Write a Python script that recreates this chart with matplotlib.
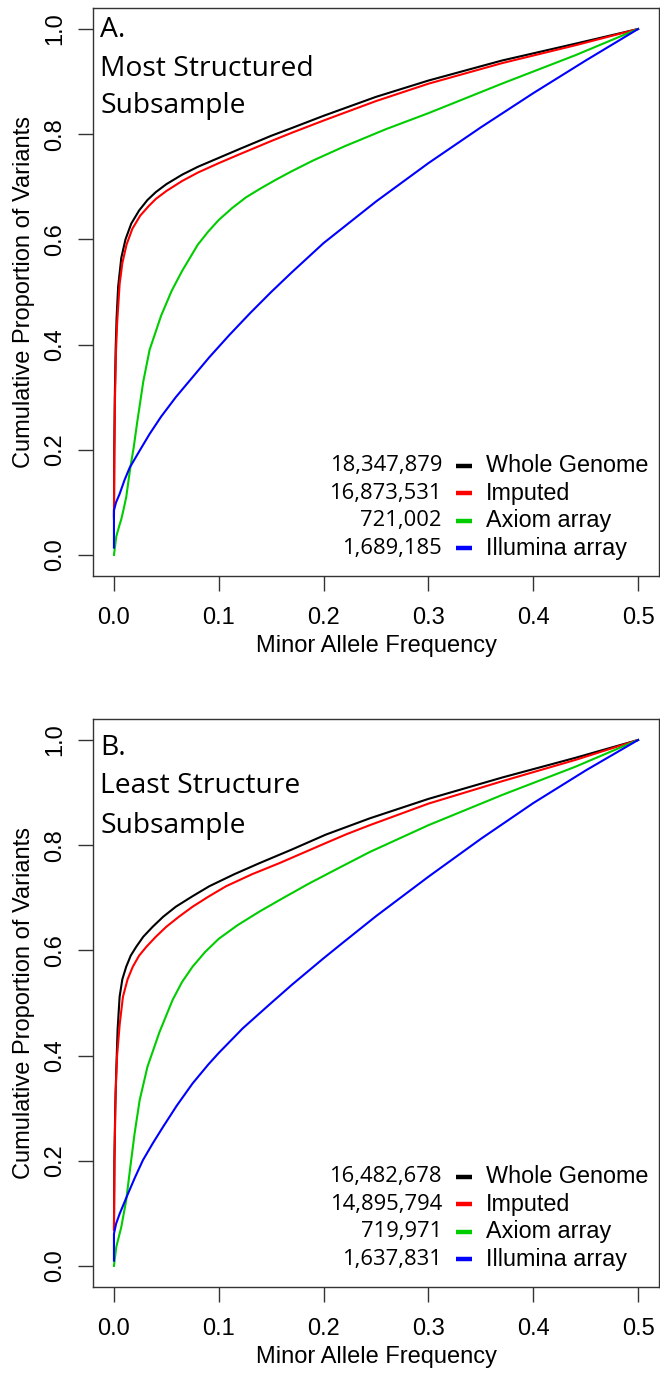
import matplotlib.pyplot as plt

# cumulative MAF curves, panel A (most structured subsample)
a_whole_x = [0.0, 0.0003, 0.0008, 0.0016, 0.0025, 0.004, 0.007, 0.011, 0.0165, 0.024, 0.032, 0.04, 0.05,
             0.065, 0.08, 0.1, 0.12, 0.15, 0.17, 0.2, 0.25, 0.3, 0.37, 0.44, 0.5]
a_whole_y = [0.07, 0.20, 0.30, 0.39, 0.45, 0.51, 0.565, 0.60, 0.63, 0.655, 0.675, 0.69, 0.705,
             0.723, 0.738, 0.755, 0.772, 0.797, 0.812, 0.835, 0.871, 0.902, 0.94, 0.972, 1.0]
a_imput_x = [0.0, 0.0004, 0.001, 0.002, 0.003, 0.0054, 0.008, 0.012, 0.0175, 0.025, 0.033, 0.04, 0.05,
             0.065, 0.08, 0.1, 0.12, 0.15, 0.17, 0.2, 0.25, 0.3, 0.37, 0.44, 0.5]
a_imput_y = [0.075, 0.20, 0.30, 0.39, 0.44, 0.515, 0.555, 0.59, 0.62, 0.645, 0.663, 0.677, 0.692,
             0.711, 0.727, 0.745, 0.762, 0.787, 0.803, 0.826, 0.863, 0.896, 0.935, 0.969, 1.0]
a_axiom_x = [0.0, 0.0022, 0.005, 0.007, 0.009, 0.0117, 0.0156, 0.0188, 0.022, 0.025, 0.028, 0.034, 0.045,
             0.055, 0.065, 0.08, 0.09, 0.1, 0.113, 0.126, 0.14, 0.155, 0.17, 0.19, 0.22, 0.26, 0.3,
             0.37, 0.44, 0.5]
a_axiom_y = [0.0, 0.035, 0.055, 0.068, 0.085, 0.11, 0.166, 0.204, 0.25, 0.29, 0.33, 0.39, 0.455,
             0.502, 0.54, 0.59, 0.615, 0.637, 0.66, 0.68, 0.697, 0.714, 0.73, 0.75, 0.777, 0.81, 0.84,
             0.896, 0.95, 1.0]
a_illum_x = [0.0, 0.0, 0.002, 0.0054, 0.01, 0.015, 0.025, 0.034, 0.045, 0.059, 0.075, 0.091,
             0.11, 0.13, 0.15, 0.17, 0.2, 0.25, 0.3, 0.35, 0.4, 0.45, 0.5]
a_illum_y = [0.014, 0.085, 0.10, 0.116, 0.142, 0.166, 0.20, 0.23, 0.263, 0.30, 0.338, 0.376,
             0.418, 0.46, 0.50, 0.538, 0.593, 0.672, 0.745, 0.813, 0.878, 0.94, 1.0]

# panel B (least structure subsample)
b_whole_x = [0.0, 0.0004, 0.0012, 0.0022, 0.0035, 0.0054, 0.008, 0.0117, 0.016, 0.0213, 0.028, 0.037,
             0.047, 0.059, 0.075, 0.091, 0.115, 0.139, 0.17, 0.202, 0.244, 0.3, 0.371, 0.44, 0.5]
b_whole_y = [0.07, 0.2, 0.3, 0.372, 0.45, 0.512, 0.545, 0.569, 0.59, 0.607, 0.626, 0.645,
             0.664, 0.683, 0.703, 0.722, 0.745, 0.766, 0.792, 0.82, 0.851, 0.888, 0.929, 0.966, 1.0]
b_imput_x = [0.0, 0.0005, 0.0016, 0.003, 0.0055, 0.0086, 0.013, 0.018, 0.024, 0.031, 0.04, 0.05,
             0.062, 0.075, 0.09, 0.107, 0.132, 0.158, 0.18, 0.202, 0.222, 0.244, 0.3, 0.371, 0.44, 0.5]
b_imput_y = [0.068, 0.2, 0.33, 0.40, 0.46, 0.512, 0.545, 0.569, 0.59, 0.607, 0.626, 0.645,
             0.664, 0.683, 0.702, 0.722, 0.745, 0.766, 0.785, 0.804, 0.821, 0.838, 0.879, 0.922, 0.962, 1.0]
b_axiom_x = [0.0, 0.0022, 0.007, 0.0117, 0.0156, 0.0197, 0.0245, 0.032, 0.0435, 0.056, 0.065, 0.075,
             0.087, 0.1, 0.118, 0.139, 0.16, 0.186, 0.21, 0.244, 0.3, 0.371, 0.44, 0.5]
b_axiom_y = [0.0, 0.036, 0.074, 0.125, 0.188, 0.252, 0.315, 0.379, 0.445, 0.506, 0.54, 0.569,
             0.597, 0.622, 0.648, 0.674, 0.698, 0.727, 0.752, 0.787, 0.838, 0.896, 0.949, 1.0]
b_illum_x = [0.0, 0.0, 0.002, 0.0054, 0.0133, 0.02, 0.0276, 0.037, 0.0467, 0.06, 0.075, 0.09, 0.1,
             0.123, 0.15, 0.17, 0.2, 0.218, 0.25, 0.3, 0.35, 0.4, 0.45, 0.5]
b_illum_y = [0.010, 0.061, 0.08, 0.099, 0.137, 0.168, 0.201, 0.233, 0.264, 0.305, 0.347, 0.383, 0.405,
             0.452, 0.50, 0.535, 0.585, 0.614, 0.665, 0.74, 0.812, 0.88, 0.942, 1.0]

series_names = ['Whole Genome', 'Imputed', 'Axiom array', 'Illumina array']
series_colors = ['#000000', '#ff0000', '#00cd00', '#0000ff']
counts_a = [18347879, 16873531, 721002, 1689185]
counts_b = [16482678, 14895794, 719971, 1637831]
titles_a = ['A.', 'Most Structured', 'Subsample']
titles_b = ['B.', 'Least Structure', 'Subsample']

xticks = [0.0, 0.1, 0.2, 0.3, 0.4, 0.5]
yticks = [0.0, 0.2, 0.4, 0.6, 0.8, 1.0]

R_FONT = 'Liberation Sans'
NOTE_FONT = 'Open Sans'


def draw_panel(ax, curves, counts, title_lines, title_y):
    for (x, y), col in zip(curves, series_colors):
        ax.plot(x, y, color=col, lw=1.5, solid_joinstyle='round')

    ax.set_xlim(-0.02, 0.52)
    ax.set_ylim(-0.04, 1.04)
    ax.set_xticks(xticks)
    ax.set_yticks(yticks)
    ax.set_xticklabels([f'{t:.1f}' for t in xticks], fontname=R_FONT, fontsize=17)
    ax.set_yticklabels([f'{t:.1f}' for t in yticks], fontname=R_FONT, fontsize=17,
                       rotation=90, va='center')
    ax.tick_params(axis='both', direction='out', length=10.5, width=1.0, color='#333333')
    ax.tick_params(axis='x', pad=12)
    ax.tick_params(axis='y', pad=9)
    for sp in ax.spines.values():
        sp.set_color('#333333')
        sp.set_linewidth(1.0)

    ax.set_xlabel('Minor Allele Frequency', fontname=R_FONT, fontsize=17, va='baseline')
    ax.xaxis.set_label_coords(0.5, -0.134)
    ax.set_ylabel('Cumulative Proportion of Variants', fontname=R_FONT, fontsize=17, va='center')
    ax.yaxis.set_label_coords(-0.122, 0.5)

    # panel heading, one text per line
    for line, yy in zip(title_lines, title_y):
        ax.text(0.0124, yy, line, transform=ax.transAxes, ha='left', va='baseline',
                fontname=NOTE_FONT, fontsize=20.3)

    # legend: count, colour dash, series name
    for i, (n, name, col) in enumerate(zip(counts, series_names, series_colors)):
        yy = 0.1937 - i * 0.0484
        ax.text(0.6166, yy, f'{n:,}', transform=ax.transAxes, ha='right', va='center',
                fontname=NOTE_FONT, fontsize=15.8)
        ax.plot([0.6413, 0.6696], [yy, yy], transform=ax.transAxes, color=col, lw=3.2,
                solid_capstyle='butt')
        ax.text(0.6943, yy, name, transform=ax.transAxes, ha='left', va='center',
                fontname=R_FONT, fontsize=16.8)


fig = plt.figure(figsize=(6.6, 13.76), dpi=100)
ax_a = fig.add_axes([0.1409, 0.5814, 0.8576, 0.4128])
ax_b = fig.add_axes([0.1409, 0.0647, 0.8576, 0.4128])

draw_panel(ax_a,
           [(a_whole_x, a_whole_y), (a_imput_x, a_imput_y), (a_axiom_x, a_axiom_y), (a_illum_x, a_illum_y)],
           counts_a, titles_a, [0.9495, 0.8803, 0.8146])
draw_panel(ax_b,
           [(b_whole_x, b_whole_y), (b_imput_x, b_imput_y), (b_axiom_x, b_axiom_y), (b_illum_x, b_illum_y)],
           counts_b, titles_b, [0.9366, 0.8692, 0.7988])

fig.savefig('out.png', dpi=100)
